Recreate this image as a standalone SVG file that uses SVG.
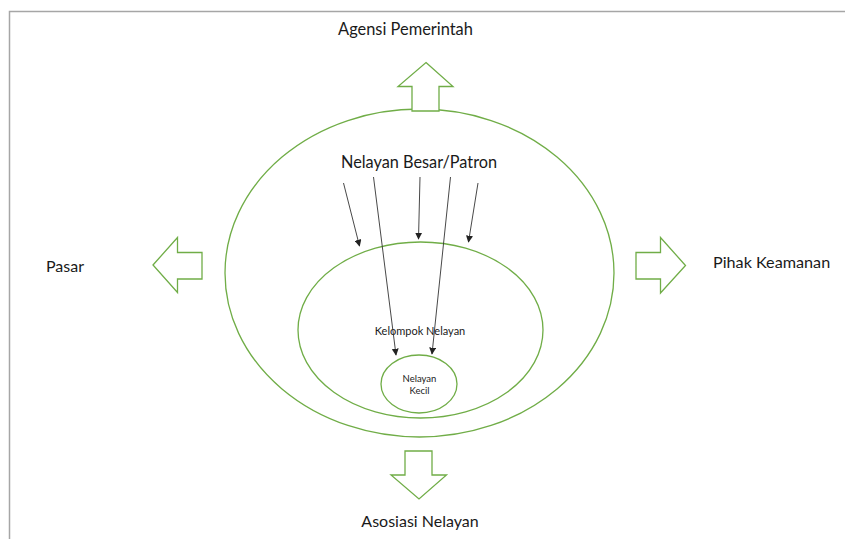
<svg xmlns="http://www.w3.org/2000/svg" width="845" height="539" viewBox="0 0 845 539">
<defs>
<marker id="ah" viewBox="0 0 10 10" refX="9" refY="5" markerWidth="7" markerHeight="7" markerUnits="userSpaceOnUse" orient="auto">
<path d="M0,0 L10,5 L0,10 z" fill="#222"/>
</marker>
<style>
.g{fill:#fff;stroke:#70AD47;stroke-width:1.3}
.gn{fill:none;stroke:#70AD47;stroke-width:1.3}
.t{font-family:Lato,"Open Sans","Liberation Sans",sans-serif;fill:#1a1a1a}
.c{stroke:#333;stroke-width:0.9;fill:none;marker-end:url(#ah)}
</style>
</defs>
<rect width="845" height="539" fill="#fff"/>
<path d="M9.5,539 V11.5 H845" fill="none" stroke="#A6A6A6" stroke-width="1.5"/>
<g id="outer">
<ellipse class="gn" cx="419.5" cy="273" rx="194.5" ry="164"/>
<text class="t" x="419" y="168" font-size="16.3" text-anchor="middle">Nelayan Besar/Patron</text>
</g>
<g id="kelompok">
<ellipse class="gn" cx="420.5" cy="330" rx="122.5" ry="88"/>
<text class="t" x="420" y="335" font-size="11" text-anchor="middle">Kelompok Nelayan</text>
</g>
<g id="kecil">
<ellipse class="gn" cx="419" cy="384" rx="38" ry="29"/>
<text class="t" x="419.5" y="382" font-size="9.5" text-anchor="middle">Nelayan</text>
<text class="t" x="419.5" y="394" font-size="9.5" text-anchor="middle">Kecil</text>
</g>
<g id="agensi">
<path class="g" d="M426,62.5 L453,86.5 L439,86.5 L439,111 L412,111 L412,86.5 L398,86.5 Z"/>
<text class="t" x="405.5" y="35" font-size="16.4" text-anchor="middle">Agensi Pemerintah</text>
</g>
<g id="asosiasi">
<path class="g" d="M405,451 L432,451 L432,475 L446.5,475 L419,499 L391,475 L405,475 Z"/>
<text class="t" x="420" y="527" font-size="16" text-anchor="middle">Asosiasi Nelayan</text>
</g>
<g id="pasar">
<path class="g" d="M153,265 L177.5,237.5 L177.5,252.5 L202,252.5 L202,279 L177.5,279 L177.5,292.5 Z"/>
<text class="t" x="46" y="272" font-size="16">Pasar</text>
</g>
<g id="keamanan">
<path class="g" d="M636,252.5 L660.5,252.5 L660.5,237.5 L685.5,265.5 L660.5,293 L660.5,279 L636,279 Z"/>
<text class="t" x="713" y="268" font-size="16.2">Pihak Keamanan</text>
</g>
<g id="connectors">
<line class="c" x1="343.5" y1="183" x2="359.5" y2="246"/>
<line class="c" x1="373.5" y1="177" x2="396" y2="355"/>
<line class="c" x1="420" y1="177" x2="418.5" y2="239"/>
<line class="c" x1="450.5" y1="177" x2="432" y2="354"/>
<line class="c" x1="478" y1="183" x2="468.5" y2="242"/>
</g>
</svg>
